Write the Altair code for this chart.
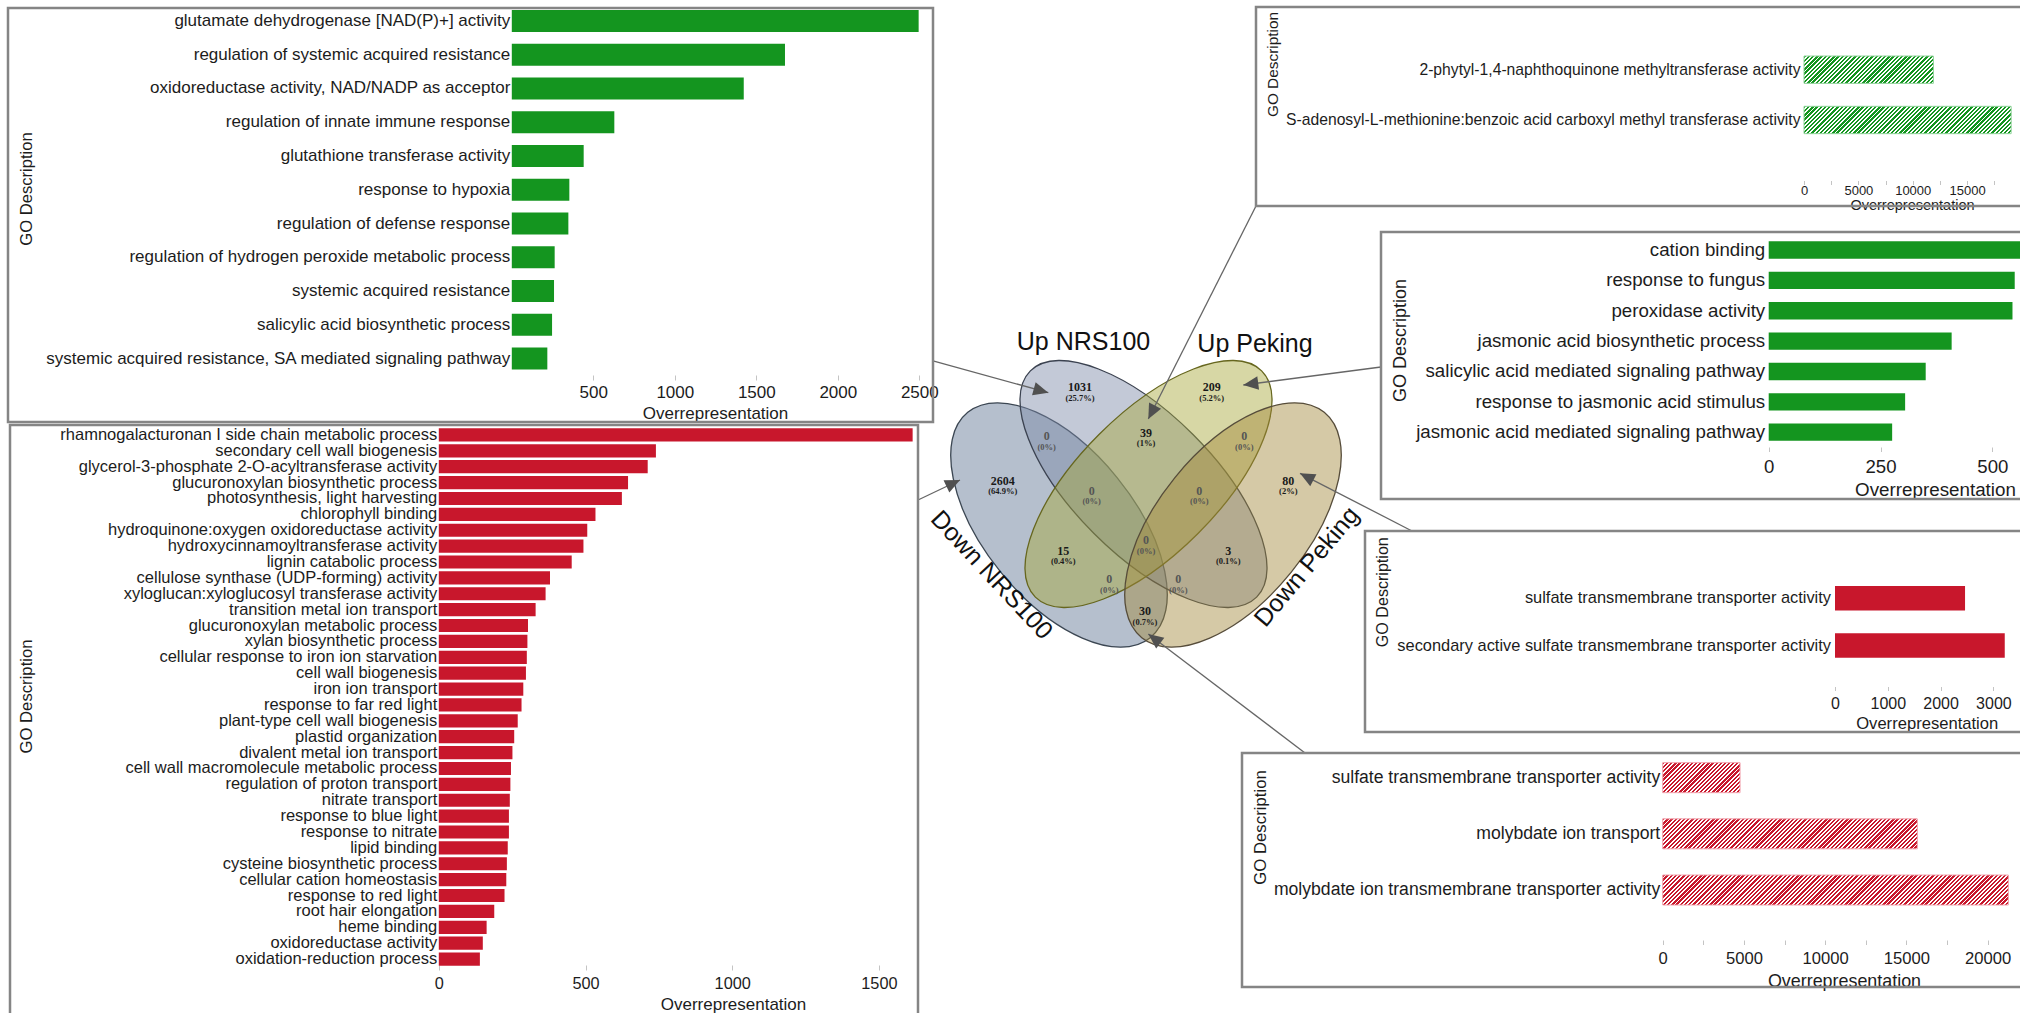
import math
import altair as alt
import pandas as pd

W, H = 2020, 1013
FONT = "Liberation Sans"
GREEN = "#14951f"
RED = "#c8172c"
INK = "#1c1c1c"

# ---------------- data ----------------
up_nrs_terms = [
    "glutamate dehydrogenase [NAD(P)+] activity",
    "regulation of systemic acquired resistance",
    "oxidoreductase activity, NAD/NADP as acceptor",
    "regulation of innate immune response",
    "glutathione transferase activity",
    "response to hypoxia",
    "regulation of defense response",
    "regulation of hydrogen peroxide metabolic process",
    "systemic acquired resistance",
    "salicylic acid biosynthetic process",
    "systemic acquired resistance, SA mediated signaling pathway",
]
up_nrs_values = [2496, 1676, 1423, 629, 441, 353, 347, 263, 259, 247, 218]

down_nrs_terms = [
    "rhamnogalacturonan I side chain metabolic process",
    "secondary cell wall biogenesis",
    "glycerol-3-phosphate 2-O-acyltransferase activity",
    "glucuronoxylan biosynthetic process",
    "photosynthesis, light harvesting",
    "chlorophyll binding",
    "hydroquinone:oxygen oxidoreductase activity",
    "hydroxycinnamoyltransferase activity",
    "lignin catabolic process",
    "cellulose synthase (UDP-forming) activity",
    "xyloglucan:xyloglucosyl transferase activity",
    "transition metal ion transport",
    "glucuronoxylan metabolic process",
    "xylan biosynthetic process",
    "cellular response to iron ion starvation",
    "cell wall biogenesis",
    "iron ion transport",
    "response to far red light",
    "plant-type cell wall biogenesis",
    "plastid organization",
    "divalent metal ion transport",
    "cell wall macromolecule metabolic process",
    "regulation of proton transport",
    "nitrate transport",
    "response to blue light",
    "response to nitrate",
    "lipid binding",
    "cysteine biosynthetic process",
    "cellular cation homeostasis",
    "response to red light",
    "root hair elongation",
    "heme binding",
    "oxidoreductase activity",
    "oxidation-reduction process",
]
down_nrs_values = [1615, 740, 712, 645, 624, 534, 506, 493, 453, 379, 364, 330,
                   304, 302, 300, 297, 288, 282, 269, 257, 251, 246, 244, 242,
                   239, 239, 235, 232, 230, 224, 189, 163, 150, 140]

up_shared_terms = [
    "2-phytyl-1,4-naphthoquinone methyltransferase activity",
    "S-adenosyl-L-methionine:benzoic acid carboxyl methyl transferase activity",
]
up_shared_values = [11900, 19050]

up_peking_terms = [
    "cation binding",
    "response to fungus",
    "peroxidase activity",
    "jasmonic acid biosynthetic process",
    "salicylic acid mediated signaling pathway",
    "response to jasmonic acid stimulus",
    "jasmonic acid mediated signaling pathway",
]
up_peking_values = [565, 550, 545, 409, 351, 305, 276]

down_peking_terms = [
    "sulfate transmembrane transporter activity",
    "secondary active sulfate transmembrane transporter activity",
]
down_peking_values = [2463, 3215]

down_shared_terms = [
    "sulfate transmembrane transporter activity",
    "molybdate ion transport",
    "molybdate ion transmembrane transporter activity",
]
down_shared_values = [4760, 15670, 21270]

venn_set_names = ["Down NRS100", "Up NRS100", "Up Peking", "Down Peking"]
venn_counts = [2604, 1031, 209, 80, 0, 39, 0, 0, 0, 15, 0, 3, 0, 0, 30]
venn_percents = ["(64.9%)", "(25.7%)", "(5.2%)", "(2%)", "(0%)", "(1%)", "(0%)",
                 "(0%)", "(0%)", "(0.4%)", "(0%)", "(0.1%)", "(0%)", "(0%)", "(0.7%)"]

# ---------------- layout (pixel geometry / styling) ----------------
venn_region_xy = [(1002.7, 480.7), (1080, 387.3), (1211.7, 387.3), (1288.3, 480.7),
                  (1046.7, 436), (1146, 432.7), (1244.3, 436), (1091.7, 490.7),
                  (1199.3, 490.7), (1063.3, 550.7), (1146, 540), (1228.3, 550.7),
                  (1109.3, 579.3), (1178.3, 579.3), (1145, 611.3)]
# cx, cy, semi-major, semi-minor, angle, fill, stroke
venn_ellipses = [
    (1059, 525, 145, 75, 51, "#5a7090", "#3b4652"),
    (1143.5, 484, 160, 70, 45, "#7a88a6", "#3b4250"),
    (1148.5, 484, 160, 70, 135, "#a6a638", "#66661e"),
    (1233, 525, 145, 75, 129, "#a2873a", "#564c3a"),
]
venn_label_pos = [(991.7, 575, 47), (1083.5, 342, 0), (1255, 344, 0), (1306.7, 566.7, 310)]
connectors = [
    (933, 360.8, 1048.3, 392.7),
    (918, 500, 960, 480),
    (1256, 206, 1148.3, 419),
    (1381, 367, 1243.3, 385),
    (1412, 531, 1300, 473.3),
    (1305, 753, 1148.3, 634),
]
boxes = [(8, 933, 8, 422), (10, 918, 425, 1030), (1256, 2040, 7, 206),
         (1381, 2040, 232, 499), (1365, 2040, 531, 732), (1242, 2040, 753, 987)]

PANELS = {
    "tl": dict(zero=511.8, ppu=0.163, dmax=2600, band=(4.1, 375.4), pin=0.35,
               axis_y=375, tick=5, label_c=392.7, xtitle=(715, 413.7), ytitle=(26.8, 188.5),
               lfont=17, tfont=17, xtfont=17, ytfont=16.6, values=[500, 1000, 1500, 2000, 2500],
               every=None, lpad=2),
    "bl": dict(zero=438.8, ppu=0.2934, dmax=1700, band=(427, 967), pin=0.17,
               axis_y=965, tick=5, label_c=983.5, xtitle=(733, 1004.5), ytitle=(26.7, 696),
               lfont=16.5, tfont=16.3, xtfont=17, ytfont=16.7, values=[0, 500, 1000, 1500],
               every=None, lpad=2),
    "r1": dict(zero=1804, ppu=0.010874, dmax=20000, band=(44.55, 145.15), pin=0.457,
               axis_y=180.5, tick=4, label_c=190, xtitle=(1912, 205.5), ytitle=(1272, 64),
               lfont=15.7, tfont=13, xtfont=14.5, ytfont=15.4, values=list(range(0, 20000, 2500)),
               every=5000, lpad=4),
    "r2": dict(zero=1768.7, ppu=0.4473, dmax=600, band=(234.8, 447.4), pin=0.43,
               axis_y=447, tick=4.5, label_c=466, xtitle=(1935, 489), ytitle=(1400, 340),
               lfont=18.7, tfont=18.6, xtfont=18.8, ytfont=18, values=[0, 250, 500],
               every=None, lpad=4),
    "r3": dict(zero=1835, ppu=0.0528, dmax=3500, band=(574.7, 669.1), pin=0.48,
               axis_y=686.5, tick=4, label_c=703.3, xtitle=(1926.7, 723.2), ytitle=(1382, 591.7),
               lfont=16.4, tfont=16, xtfont=16.6, ytfont=16.1, values=[0, 1000, 2000, 3000],
               every=None, lpad=4.5),
    "r4": dict(zero=1662.7, ppu=0.01625, dmax=22500, band=(749.6, 918.1), pin=0.466,
               axis_y=940, tick=4.5, label_c=958.7, xtitle=(1844, 981), ytitle=(1260.8, 827),
               lfont=17.6, tfont=16.6, xtfont=17.9, ytfont=16.8, values=list(range(0, 22500, 2500)),
               every=5000, lpad=3),
}


def hatch(color, w, h, period=4.2, duty=0.55):
    k = (w + h) / (w * w + h * h)
    n = max(1, int(round((w + h) / period)))
    stops = []
    for i in range(n):
        a, m, e = i / n, (i + duty) / n, (i + 1) / n
        stops += [alt.GradientStop(color=color, offset=a), alt.GradientStop(color=color, offset=m),
                  alt.GradientStop(color="white", offset=m), alt.GradientStop(color="white", offset=e)]
    return alt.LinearGradient(gradient="linear", stops=stops, x1=0, y1=0, x2=k * w, y2=k * h)


def panel_layers(terms, values, p, color, hatched=False, light=None):
    df = pd.DataFrame({"term": terms, "value": values})
    xs = alt.Scale(domain=[0, p["dmax"]], range=[p["zero"], p["zero"] + p["dmax"] * p["ppu"]],
                   nice=False, zero=False)
    ys = alt.Scale(domain=terms, range=list(p["band"]), paddingInner=p["pin"],
                   paddingOuter=p["pin"] / 2)
    xaxis_kw = dict(orient="bottom", offset=p["axis_y"] - H, values=p["values"], grid=False,
                    domain=False, tickSize=p["tick"], tickColor="#c4c4c4", tickWidth=1,
                    format="d",
                    labelFontSize=p["tfont"], labelPadding=p["label_c"] - p["axis_y"] - p["tick"],
                    labelBaseline="middle", labelFlush=False, labelOverlap=False, labelColor=INK,
                    labelFont=FONT,
                    title="Overrepresentation", titleX=p["xtitle"][0], titleY=p["xtitle"][1] - p["axis_y"],
                    titleAlign="center", titleBaseline="middle", titleFontSize=p["xtfont"],
                    titleFontWeight="normal", titleColor=INK, titleFont=FONT)
    if p["every"]:
        xaxis_kw["labelExpr"] = f"datum.value % {p['every']} === 0 ? datum.label : ''"
    xaxis = alt.Axis(**xaxis_kw)
    yaxis = alt.Axis(orient="left", offset=-p["zero"], domain=False, ticks=False, tickSize=0,
                     labelPadding=p["lpad"], labelFontSize=p["lfont"], labelLimit=3000,
                     labelColor=INK, labelFont=FONT,
                     title="GO Description", titleX=p["ytitle"][0] - p["zero"], titleY=p["ytitle"][1],
                     titleAngle=270, titleAlign="center", titleBaseline="middle",
                     titleFontSize=p["ytfont"], titleFontWeight="normal", titleColor=INK, titleFont=FONT)
    if not hatched:
        return [alt.Chart(df).mark_bar(color=color).encode(
            x=alt.X("value:Q", scale=xs, axis=xaxis),
            y=alt.Y("term:N", scale=ys, axis=yaxis),
        )]
    layers = []
    step = (p["band"][1] - p["band"][0]) / len(terms)
    bar_h = step * (1 - p["pin"])
    for i, v in enumerate(values):
        grad = hatch(color, v * p["ppu"], bar_h)
        layers.append(alt.Chart(df.iloc[[i]]).mark_bar(fill=grad, stroke=light, strokeWidth=1).encode(
            x=alt.X("value:Q", scale=xs, axis=xaxis if i == 0 else None),
            y=alt.Y("term:N", scale=ys, axis=yaxis if i == 0 else None),
        ))
    return layers


cxs = alt.Scale(domain=[0, W], range=[0, W], nice=False, zero=False)
cys = alt.Scale(domain=[0, H], range=[0, H], nice=False, zero=False)


def cx(f="x"):
    return alt.X(f"{f}:Q", scale=cxs, axis=None)


def cy(f="y"):
    return alt.Y(f"{f}:Q", scale=cys, axis=None)


def ellipse_path(r):
    k = 0.5523
    return (f"M 1 0 C 1 {r*k:.4f} {k:.4f} {r:.4f} 0 {r:.4f} "
            f"C {-k:.4f} {r:.4f} -1 {r*k:.4f} -1 0 "
            f"C -1 {-r*k:.4f} {-k:.4f} {-r:.4f} 0 {-r:.4f} "
            f"C {k:.4f} {-r:.4f} 1 {-r*k:.4f} 1 0 Z")


ell_df = pd.DataFrame([
    {"x": c[0], "y": c[1], "size": 4 * c[2] ** 2, "angle": c[4], "path": ellipse_path(c[3] / c[2]),
     "fill": c[5], "stroke": c[6], "set": name}
    for c, name in zip(venn_ellipses, venn_set_names)
])
ellipses = alt.Chart(ell_df).mark_point(filled=True, opacity=1, fillOpacity=0.45, strokeOpacity=1,
                                        strokeWidth=1.3).encode(
    x=cx(), y=cy(),
    size=alt.Size("size:Q", scale=None),
    angle=alt.Angle("angle:Q", scale=None),
    shape=alt.Shape("path:N", scale=None),
    fill=alt.Fill("fill:N", scale=None),
    stroke=alt.Stroke("stroke:N", scale=None),
)

line_df = pd.DataFrame(connectors, columns=["x", "y", "x2", "y2"])
lines = alt.Chart(line_df).mark_rule(color="#666666", strokeWidth=1.3).encode(
    x=cx(), y=cy(), x2="x2:Q", y2="y2:Q")

arrow_df = pd.DataFrame([
    {"x": c[2], "y": c[3], "angle": math.degrees(math.atan2(c[2] - c[0], -(c[3] - c[1]))) % 360}
    for c in connectors
])
arrows = alt.Chart(arrow_df).mark_point(filled=True, opacity=1, shape="M 0 0 L 0.9 2 L -0.9 2 Z",
                                        size=225, fill="#505050", strokeWidth=0).encode(
    x=cx(), y=cy(), angle=alt.Angle("angle:Q", scale=None))

cnt_df = pd.DataFrame({
    "x": [p[0] for p in venn_region_xy],
    "y": [p[1] for p in venn_region_xy],
    "count": [str(c) for c in venn_counts],
    "pct": venn_percents,
    "col": ["#555555" if c == 0 else "#1a1a1a" for c in venn_counts],
})
counts = alt.Chart(cnt_df).mark_text(font="Liberation Serif", fontWeight="bold", fontSize=12,
                                     baseline="middle", align="center").encode(
    x=cx(), y=cy(), text="count:N", color=alt.Color("col:N", scale=None))
pcts = alt.Chart(cnt_df).transform_calculate(y2="datum.y + 10.5").mark_text(
    font="Liberation Serif", fontWeight="bold", fontSize=8.5, baseline="middle", align="center").encode(
    x=cx(), y=cy("y2"), text="pct:N", color=alt.Color("col:N", scale=None))

set_df = pd.DataFrame({"x": [p[0] for p in venn_label_pos], "y": [p[1] for p in venn_label_pos],
                       "angle": [p[2] for p in venn_label_pos], "name": venn_set_names})
set_labels = alt.Chart(set_df).mark_text(font=FONT, fontSize=25, color="#111111",
                                         baseline="middle", align="center").encode(
    x=cx(), y=cy(), text="name:N", angle=alt.Angle("angle:Q", scale=None))

box_df = pd.DataFrame(boxes, columns=["x", "x2", "y", "y2"])
frames = alt.Chart(box_df).mark_rect(fill="transparent", stroke="#858585", strokeWidth=2.5).encode(
    x=cx(), x2="x2:Q", y=cy(), y2="y2:Q")

layers = [ellipses, lines, arrows, counts, pcts, set_labels, frames]
layers += panel_layers(up_nrs_terms, up_nrs_values, PANELS["tl"], GREEN)
layers += panel_layers(down_nrs_terms, down_nrs_values, PANELS["bl"], RED)
layers += panel_layers(up_shared_terms, up_shared_values, PANELS["r1"], GREEN, hatched=True, light="#8fd39a")
layers += panel_layers(up_peking_terms, up_peking_values, PANELS["r2"], GREEN)
layers += panel_layers(down_peking_terms, down_peking_values, PANELS["r3"], RED)
layers += panel_layers(down_shared_terms, down_shared_values, PANELS["r4"], RED, hatched=True, light="#f2a3ad")

chart = alt.layer(*layers).resolve_scale(x="independent", y="independent").properties(
    width=W, height=H, autosize=alt.AutoSizeParams(type="none"), padding=0
).configure(font=FONT, background="white").configure_view(strokeWidth=0)

chart.save("out.html", embed_options={"renderer": "svg", "actions": False})
